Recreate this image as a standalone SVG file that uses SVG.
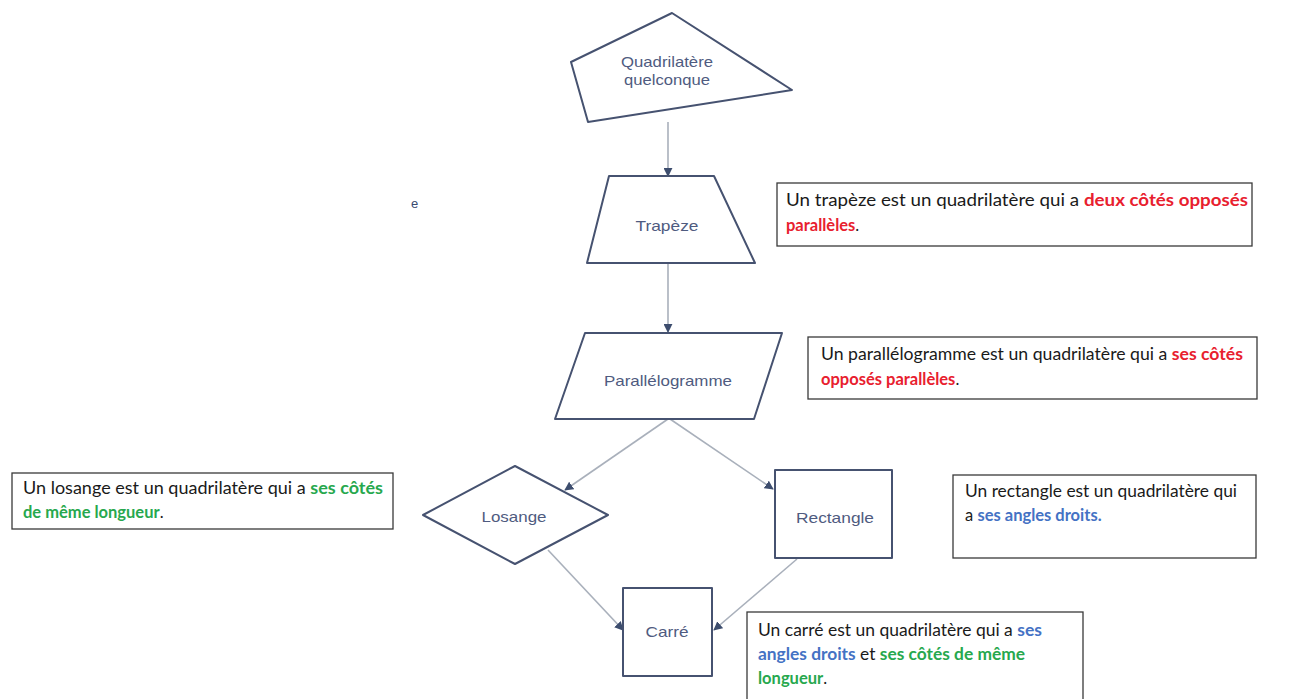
<svg xmlns="http://www.w3.org/2000/svg" width="1291" height="699" viewBox="0 0 1291 699">
<defs>
<style>
.shape{fill:#ffffff;stroke:#465270;stroke-width:2;stroke-linejoin:round}
.lbl{font-family:"Liberation Sans",Arial,sans-serif;font-size:15px;fill:#4f5b80;text-anchor:middle}
.conn{stroke:#a9b0bb;stroke-width:1.6;fill:none}
.box{fill:#ffffff;stroke:#3a3a3a;stroke-width:1.3}
.note{font-family:Lato,"Open Sans",sans-serif;font-size:16.5px;fill:#1a1a1a}
.red{fill:#e8202e;font-weight:bold}
.green{fill:#27a84e;font-weight:bold}
.blue{fill:#4472c4;font-weight:bold}
</style>
<marker id="arr" viewBox="0 0 10 10" refX="9" refY="5" markerWidth="9" markerHeight="9" markerUnits="userSpaceOnUse" orient="auto">
<path d="M0,0 L10,5 L0,10 Z" fill="#3d4d6e"/>
</marker>
</defs>
<rect x="0" y="0" width="1291" height="699" fill="#ffffff"/>
<text x="411" y="208" style="font-family:'Liberation Sans',sans-serif;font-size:13px;fill:#3a4a70">e</text>

<g id="connectors">
<line class="conn" x1="668" y1="122" x2="668" y2="176" marker-end="url(#arr)"/>
<line class="conn" x1="668" y1="263" x2="668" y2="332" marker-end="url(#arr)"/>
<line class="conn" x1="668" y1="419" x2="565" y2="490" marker-end="url(#arr)"/>
<line class="conn" x1="670" y1="419" x2="773" y2="489" marker-end="url(#arr)"/>
<line class="conn" x1="548" y1="550" x2="623" y2="630" marker-end="url(#arr)"/>
<line class="conn" x1="797" y1="559" x2="714" y2="630" marker-end="url(#arr)"/>
</g>

<g id="quadrilatere">
<polygon class="shape" points="672,13 571,62 588,122 792,90"/>
<text class="lbl" x="667" y="67" textLength="92" lengthAdjust="spacingAndGlyphs">Quadrilatère</text>
<text class="lbl" x="667" y="85" textLength="86" lengthAdjust="spacingAndGlyphs">quelconque</text>
</g>
<g id="trapeze">
<polygon class="shape" points="609,176 714,176 755,263 587,263"/>
<text class="lbl" x="667" y="231" textLength="63" lengthAdjust="spacingAndGlyphs">Trapèze</text>
</g>
<g id="parallelogramme">
<polygon class="shape" points="585,333 782,333 754,419 555,419"/>
<text class="lbl" x="668" y="386" textLength="128" lengthAdjust="spacingAndGlyphs">Parallélogramme</text>
</g>
<g id="losange">
<polygon class="shape" points="423,515 515,466 608,515 515,564"/>
<text class="lbl" x="514" y="522" textLength="65" lengthAdjust="spacingAndGlyphs">Losange</text>
</g>
<g id="rectangle">
<rect class="shape" x="775" y="470" width="117" height="88"/>
<text class="lbl" x="835" y="523" textLength="78" lengthAdjust="spacingAndGlyphs">Rectangle</text>
</g>
<g id="carre">
<rect class="shape" x="623" y="588" width="89" height="88"/>
<text class="lbl" x="667" y="637" textLength="43" lengthAdjust="spacingAndGlyphs">Carré</text>
</g>

<g id="note-trapeze">
<rect class="box" x="777" y="183" width="475" height="63"/>
<text class="note" x="786" y="206" textLength="462" lengthAdjust="spacingAndGlyphs">Un trapèze est un quadrilatère qui a <tspan class="red">deux côtés opposés</tspan></text>
<text class="note" x="786" y="231"><tspan class="red">parallèles</tspan>.</text>
</g>
<g id="note-parallelogramme">
<rect class="box" x="808" y="337" width="449" height="62"/>
<text class="note" x="821" y="360" textLength="422" lengthAdjust="spacingAndGlyphs">Un parallélogramme est un quadrilatère qui a <tspan class="red">ses côtés</tspan></text>
<text class="note" x="821" y="385"><tspan class="red">opposés parallèles</tspan>.</text>
</g>
<g id="note-losange">
<rect class="box" x="12" y="473" width="381" height="56"/>
<text class="note" x="23" y="494" textLength="360" lengthAdjust="spacingAndGlyphs">Un losange est un quadrilatère qui a <tspan class="green">ses côtés</tspan></text>
<text class="note" x="23" y="518"><tspan class="green">de même longueur</tspan>.</text>
</g>
<g id="note-rectangle">
<rect class="box" x="953" y="475" width="303" height="83"/>
<text class="note" x="965" y="497" textLength="272" lengthAdjust="spacingAndGlyphs">Un rectangle est un quadrilatère qui</text>
<text class="note" x="965" y="521">a <tspan class="blue">ses angles droits.</tspan></text>
</g>
<g id="note-carre">
<rect class="box" x="747" y="612" width="336" height="95"/>
<text class="note" x="758" y="636" textLength="284" lengthAdjust="spacingAndGlyphs">Un carré est un quadrilatère qui a <tspan class="blue">ses</tspan></text>
<text class="note" x="758" y="660" textLength="267" lengthAdjust="spacingAndGlyphs"><tspan class="blue">angles droits</tspan> et <tspan class="green">ses côtés de même</tspan></text>
<text class="note" x="758" y="684"><tspan class="green">longueur</tspan>.</text>
</g>
</svg>
